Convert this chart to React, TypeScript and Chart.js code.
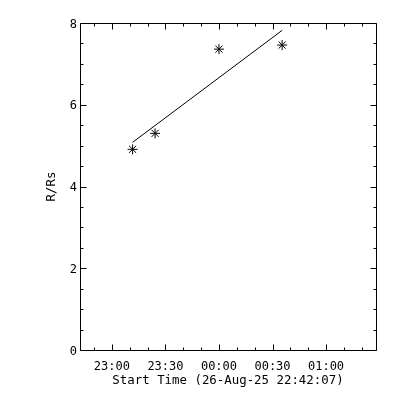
import React, { useEffect, useRef } from 'react';
import { Chart, registerables } from 'chart.js';

Chart.register(...registerables);

// x values: minutes after 26-Aug-25 22:00
const startTimes = [71.6, 84.2, 120.0, 155.4];
const radii = [4.91, 5.30, 7.36, 7.46];
const fitTimes = [71.6, 155.4];
const fitRadii = [5.08, 7.82];

const xMajorTicks = [60, 90, 120, 150, 180];
const xMinorTicks = [50, 70, 80, 100, 110, 130, 140, 160, 170, 190, 200];
const yMajorTicks = [0, 2, 4, 6, 8];
const yMinorTicks = [0.5, 1, 1.5, 2.5, 3, 3.5, 4.5, 5, 5.5, 6.5, 7, 7.5];

const xMin = 42.117; // 22:42:07
const xMax = 208;
const yMin = 0;
const yMax = 8;

const xTitle = 'Start Time (26-Aug-25 22:42:07)';
const yTitle = 'R/Rs';

const FONT = "'DejaVu Sans Mono', monospace";

function fmtTime(m: number): string {
  const total = 22 * 60 + Math.round(m);
  const h = Math.floor(total / 60) % 24;
  const mm = total % 60;
  return String(h).padStart(2, '0') + ':' + String(mm).padStart(2, '0');
}

const idlBox = {
  id: 'idlBox',
  afterDatasetsDraw(chart: any) {
    const { ctx, chartArea, scales } = chart;
    const { left, right, top, bottom } = chartArea;
    const xs = scales.x;
    const ys = scales.y;
    const L = Math.round(left) + 0.5;
    const R = Math.round(right) + 0.5;
    const T = Math.round(top) + 0.5;
    const B = Math.round(bottom) + 0.5;
    ctx.save();
    ctx.strokeStyle = '#000';
    ctx.lineWidth = 1;
    ctx.beginPath();
    ctx.rect(L, T, R - L, B - T);
    const xt = (v: number, len: number) => {
      const p = Math.round(xs.getPixelForValue(v)) + 0.5;
      ctx.moveTo(p, B);
      ctx.lineTo(p, B - len);
      ctx.moveTo(p, T);
      ctx.lineTo(p, T + len);
    };
    const yt = (v: number, len: number) => {
      const p = Math.round(ys.getPixelForValue(v)) + 0.5;
      ctx.moveTo(L, p);
      ctx.lineTo(L + len, p);
      ctx.moveTo(R, p);
      ctx.lineTo(R - len, p);
    };
    xMajorTicks.forEach((v) => xt(v, 6));
    xMinorTicks.forEach((v) => xt(v, 3));
    yMajorTicks.forEach((v) => yt(v, 6));
    yMinorTicks.forEach((v) => yt(v, 3));
    ctx.stroke();
    ctx.restore();
  },
};

export default function App() {
  const ref = useRef<HTMLCanvasElement | null>(null);
  useEffect(() => {
    if (!ref.current) return;
    const chart = new Chart(ref.current, {
      type: 'scatter',
      data: {
        datasets: [
          {
            label: 'points',
            data: startTimes.map((t, i) => ({ x: t, y: radii[i] })),
            pointStyle: 'star',
            pointRadius: 5,
            pointBorderWidth: 1,
            borderColor: '#000',
            backgroundColor: '#000',
            showLine: false,
          },
          {
            label: 'fit',
            data: fitTimes.map((t, i) => ({ x: t, y: fitRadii[i] })),
            showLine: true,
            pointRadius: 0,
            borderColor: '#000',
            borderWidth: 1,
          },
        ],
      },
      options: {
        animation: false,
        responsive: false,
        layout: { padding: { top: 23, right: 24, left: 0, bottom: 0 } },
        plugins: {
          legend: { display: false },
          tooltip: { enabled: false },
        },
        scales: {
          x: {
            type: 'linear',
            min: xMin,
            max: xMax,
            grid: { display: false, drawTicks: false },
            border: { display: false },
            afterBuildTicks: (s: any) => {
              s.ticks = xMajorTicks.map((v) => ({ value: v }));
            },
            afterFit: (s: any) => {
              s.height = 50;
            },
            ticks: {
              color: '#000',
              padding: 10,
              maxRotation: 0,
              font: { family: FONT, size: 12 },
              callback: (v: any) => fmtTime(Number(v)),
            },
            title: {
              display: true,
              text: xTitle,
              color: '#000',
              font: { family: FONT, size: 12.4 },
              padding: { top: 0, bottom: 12 },
            },
          },
          y: {
            type: 'linear',
            min: yMin,
            max: yMax,
            grid: { display: false, drawTicks: false },
            border: { display: false },
            afterBuildTicks: (s: any) => {
              s.ticks = yMajorTicks.map((v) => ({ value: v }));
            },
            afterFit: (s: any) => {
              s.width = 80;
            },
            ticks: {
              color: '#000',
              padding: 3,
              labelOffset: 1.5,
              font: { family: FONT, size: 12 },
              callback: (v: any) => String(v),
            },
            title: {
              display: true,
              text: yTitle,
              color: '#000',
              font: { family: FONT, size: 12.4 },
              padding: { top: 44, bottom: 0 },
            },
          },
        },
      },
      plugins: [idlBox],
    });
    return () => chart.destroy();
  }, []);
  return (
    <div style={{ position: 'fixed', left: 0, top: 0, width: 400, height: 400, background: '#fff' }}>
      <canvas ref={ref} width={400} height={400} style={{ width: 400, height: 400 }} />
    </div>
  );
}
